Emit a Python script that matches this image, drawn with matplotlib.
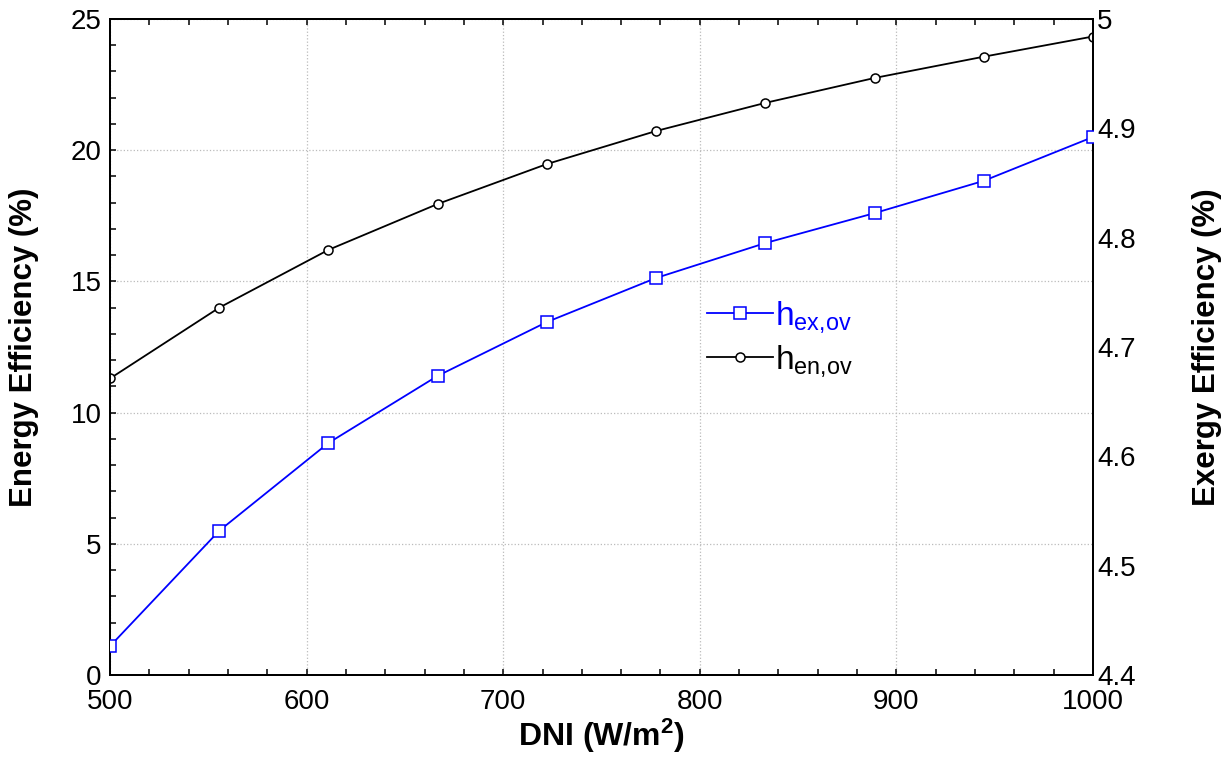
import matplotlib
matplotlib.use("Agg")
import matplotlib.pyplot as plt
from matplotlib.ticker import MultipleLocator, FixedLocator

plt.rcParams['font.family'] = ['Liberation Sans', 'DejaVu Sans']
plt.rcParams['mathtext.fontset'] = 'custom'
plt.rcParams['mathtext.rm'] = 'Liberation Sans'
plt.rcParams['mathtext.it'] = 'Liberation Sans'
plt.rcParams['mathtext.bf'] = 'Liberation Sans:bold'

dni = [500, 555.6, 611.1, 666.7, 722.2, 777.8, 833.3, 888.9, 944.4, 1000]
# energy efficiency (left axis, %)
eta_en = [11.3, 14.0, 16.2, 17.95, 19.47, 20.73, 21.8, 22.75, 23.56, 24.33]
# exergy efficiency (right axis, %)
eta_ex = [4.4264, 4.532, 4.6122, 4.6736, 4.7228, 4.7631, 4.7950, 4.8224, 4.8519, 4.892]
right_ticks = [4.4, 4.5, 4.6, 4.7, 4.8, 4.9, 5.0]
right_labels = ['4.4', '4.5', '4.6', '4.7', '4.8', '4.9', '5']

fig = plt.figure(figsize=(12.28, 7.57), dpi=100)
ax = fig.add_axes([0.0896, 0.1083, 0.8004, 0.8667])
ax2 = ax.twinx()

l_en, = ax.plot(dni, eta_en, color='black', lw=1.3, marker='o', ms=6.5,
                mfc='white', mec='black', mew=1.1, label=r'h$_{\mathrm{en{,}ov}}$', zorder=3)
l_ex, = ax2.plot(dni, eta_ex, color='blue', lw=1.3, marker='s', ms=8,
                 mfc='white', mec='blue', mew=1.1, label=r'h$_{\mathrm{ex{,}ov}}$', zorder=3)

ax.set_xlim(500, 1000)
ax.set_ylim(0, 25)
ax2.set_ylim(4.4, 5.0)

ax.xaxis.set_major_locator(MultipleLocator(100))
ax.xaxis.set_minor_locator(MultipleLocator(20))
ax.yaxis.set_major_locator(MultipleLocator(5))
ax.yaxis.set_minor_locator(MultipleLocator(1))
ax2.yaxis.set_major_locator(FixedLocator(right_ticks))
ax2.set_yticklabels(right_labels)

ax.grid(True, which='major', color='#bbbbbb', ls=':', lw=0.9)
ax.tick_params(which='both', direction='in', top=True, right=False, labelsize=20,
               length=4, width=1.1)
ax.tick_params(axis='x', pad=10)
ax.tick_params(axis='y', pad=6)
ax2.tick_params(which='both', length=0, labelsize=20, pad=3)

for a in (ax, ax2):
    for s in a.spines.values():
        s.set_linewidth(1.4)

ax.set_xlabel(r'DNI (W/m$^{\bf 2}$)', fontsize=23, fontweight='bold')
ax.set_ylabel('Energy Efficiency (%)', fontsize=22.5, fontweight='bold')
ax2.set_ylabel('Exergy Efficiency (%)', fontsize=22.5, fontweight='bold')
ax.xaxis.set_label_coords(0.5, -0.064)
ax.yaxis.set_label_coords(-0.072, 0.5)
ax2.yaxis.set_label_coords(1.101, 0.5)

leg = ax2.legend(handles=[l_ex, l_en], loc='upper left', bbox_to_anchor=(0.551, 0.6445),
                 bbox_transform=fig.transFigure, frameon=False, fontsize=24,
                 handlelength=2.0, handletextpad=0.05, labelspacing=0.25,
                 labelcolor='linecolor')

fig.savefig('out.png', dpi=100)
